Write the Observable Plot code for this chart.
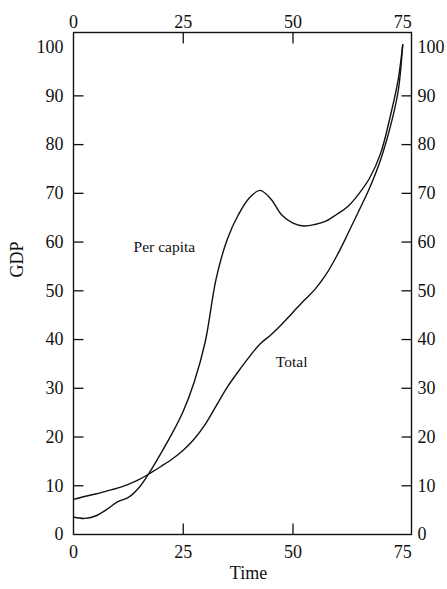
<!DOCTYPE html>
<html>
<head>
<meta charset="utf-8">
<script src="https://cdn.jsdelivr.net/npm/d3@7"></script>
<script src="https://cdn.jsdelivr.net/npm/@observablehq/plot@0.6"></script>
<style>
  body { margin: 0; background: #fff; }
  #chart svg { display: block; }
</style>
</head>
<body>
<div id="chart"></div>
<script>
// GDP over time: per-capita and total series
const time = [0, 2.5, 5, 7.5, 10, 12.5, 15, 17.5, 20, 22.5, 25, 27.5, 30, 32.5, 35, 37.5,
              40, 42.5, 45, 47.5, 50, 52.5, 55, 57.5, 60, 62.5, 65, 67.5, 70, 72.5, 74, 75];
const perCapita = [3.6, 3.3, 3.8, 5.1, 6.7, 7.6, 9.7, 13.0, 16.8, 20.8, 25.3, 31.3, 39.5, 52.5, 60.5, 65.5,
                   69, 70.6, 68.8, 65.5, 63.9, 63.3, 63.6, 64.3, 65.7, 67.3, 69.9, 73.2, 78.3, 87.1, 93.5, 100.5];
const total = [7.2, 7.8, 8.3, 8.9, 9.5, 10.3, 11.3, 12.6, 14.0, 15.5, 17.3, 19.6, 22.6, 26.4, 30.2, 33.4,
               36.4, 39.1, 41.0, 43.2, 45.6, 48.0, 50.3, 53.3, 57.2, 61.7, 66.4, 71.2, 77.0, 84.8, 91.2, 100.5];

// Axis ticks
const xTickLabels = [0, 25, 50, 75];
const xTickMarks = [25, 50];
const yTickLabels = [0, 10, 20, 30, 40, 50, 60, 70, 80, 90, 100];
const yTickMarks = [10, 20, 30, 40, 50, 60, 70, 80, 90];

// Series labels placed beside their curves
const labelNames = ["Per capita", "Total"];
const labelTime = [20.7, 49.7];
const labelGDP = [58.9, 35.4];

const rows = time.flatMap((t, i) => [
  {time: t, gdp: perCapita[i], series: "Per capita"},
  {time: t, gdp: total[i], series: "Total"}
]);
const labels = labelNames.map((name, i) => ({name, time: labelTime[i], gdp: labelGDP[i]}));

const font = "'Liberation Serif', 'Times New Roman', serif";
const tickLen = 10.5;
const noLabel = () => "";

const chart = Plot.plot({
  width: 447,
  height: 589,
  marginLeft: 73,
  marginRight: 36,
  marginTop: 32,
  marginBottom: 55,
  style: {fontFamily: font, fontSize: "18px", color: "#111", background: "#fff"},
  x: {domain: [0, 77]},
  y: {domain: [0, 103]},
  marks: [
    // tick labels on all four sides
    Plot.axisX({anchor: "bottom", ticks: xTickLabels, tickSize: 0, tickPadding: 11, label: null, fontSize: 18}),
    Plot.axisX({anchor: "top", ticks: xTickLabels, tickSize: 0, tickPadding: 5, label: null, fontSize: 18}),
    Plot.axisY({anchor: "left", ticks: yTickLabels, tickSize: 0, tickPadding: 10, label: null, fontSize: 18}),
    Plot.axisY({anchor: "right", ticks: yTickLabels, tickSize: 0, tickPadding: 6, label: null, fontSize: 18}),
    // inward tick marks
    Plot.axisX({anchor: "bottom", ticks: xTickMarks, tickSize: tickLen, dy: -tickLen, tickFormat: noLabel, label: null, strokeWidth: 1.3}),
    Plot.axisX({anchor: "top", ticks: xTickMarks, tickSize: tickLen, dy: tickLen, tickFormat: noLabel, label: null, strokeWidth: 1.3}),
    Plot.axisY({anchor: "left", ticks: yTickMarks, tickSize: tickLen, dx: tickLen, tickFormat: noLabel, label: null, strokeWidth: 1.3}),
    Plot.axisY({anchor: "right", ticks: yTickMarks, tickSize: tickLen, dx: -tickLen, tickFormat: noLabel, label: null, strokeWidth: 1.3}),
    Plot.frame({stroke: "#111", strokeWidth: 1.4}),
    Plot.line(rows, {x: "time", y: "gdp", z: "series", stroke: "#111", strokeWidth: 1.4, curve: "catmull-rom"}),
    Plot.text(labels, {x: "time", y: "gdp", text: "name", fontSize: 15.5, fill: "#111"}),
    // axis titles
    Plot.text(["GDP"], {frameAnchor: "left", dx: -56, dy: -6, rotate: -90, fontSize: 18, fill: "#111"}),
    Plot.text(["Time"], {frameAnchor: "bottom", dx: 6, dy: 44, fontSize: 18, fill: "#111"})
  ]
});

document.getElementById("chart").appendChild(chart);
</script>
</body>
</html>
